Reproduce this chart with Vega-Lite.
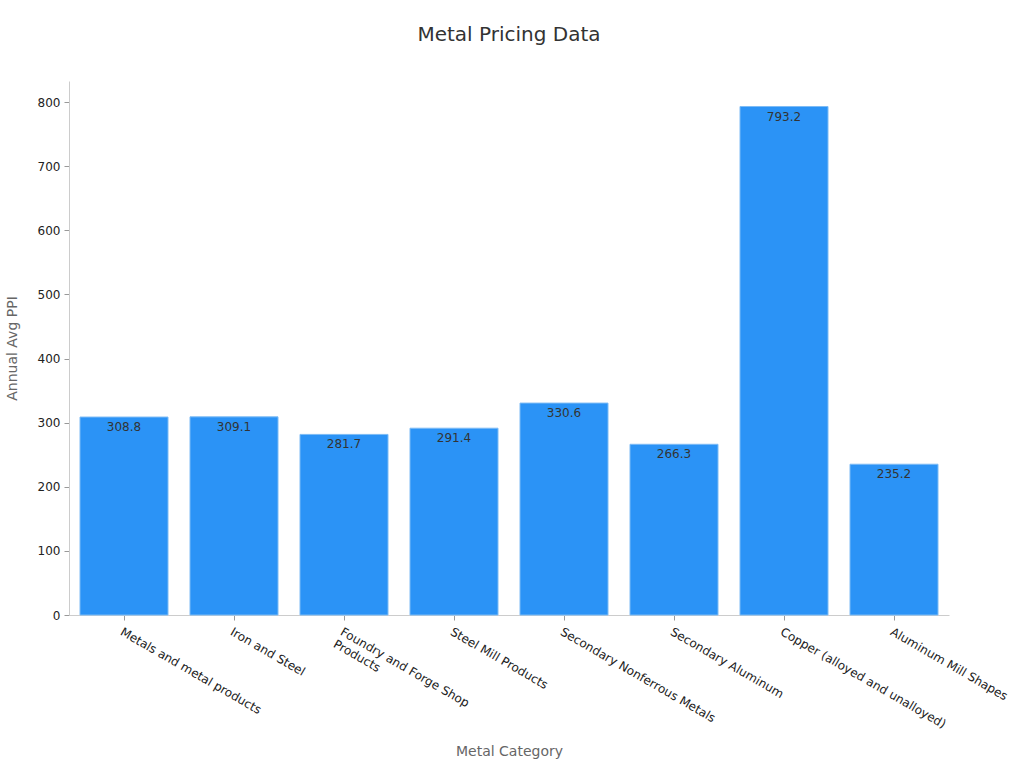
{
  "$schema": "https://vega.github.io/schema/vega-lite/v6.json",
  "width": 880,
  "height": 534,
  "autosize": {"type": "none"},
  "padding": {"left": 69, "top": 81, "right": 75, "bottom": 153},
  "background": "white",
  "title": {
    "text": "Metal Pricing Data",
    "fontSize": 20,
    "font": "DejaVu Sans",
    "fontWeight": "normal",
    "color": "#333333",
    "anchor": "middle",
    "offset": 36
  },
  "config": {
    "view": {"stroke": null},
    "font": "DejaVu Sans"
  },
  "data": {
    "values": [
      {"category": "Metals and metal products", "ppi": 308.8},
      {"category": "Iron and Steel", "ppi": 309.1},
      {"category": "Foundry and Forge Shop Products", "ppi": 281.7},
      {"category": "Steel Mill Products", "ppi": 291.4},
      {"category": "Secondary Nonferrous Metals", "ppi": 330.6},
      {"category": "Secondary Aluminum", "ppi": 266.3},
      {"category": "Copper (alloyed and unalloyed)", "ppi": 793.2},
      {"category": "Aluminum Mill Shapes", "ppi": 235.2}
    ]
  },
  "encoding": {
    "x": {
      "field": "category",
      "type": "nominal",
      "sort": null,
      "scale": {"paddingInner": 0.2, "paddingOuter": 0.1},
      "axis": {
        "title": "Metal Category",
        "titleFontSize": 14,
        "titleFontWeight": "normal",
        "titleColor": "#666666",
        "titlePadding": 15,
        "labelAngle": 30,
        "labelAlign": "left",
        "labelBaseline": "top",
        "labelFontSize": 12,
        "labelColor": "#222222",
        "labelLimit": 300,
        "labelPadding": 6,
        "labelExpr": "datum.label == 'Foundry and Forge Shop Products' ? ['Foundry and Forge Shop', 'Products'] : datum.label",
        "domainColor": "#cccccc",
        "tickColor": "#999999",
        "tickSize": 5,
        "grid": false
      }
    },
    "y": {
      "field": "ppi",
      "type": "quantitative",
      "scale": {"domain": [0, 833], "nice": false},
      "axis": {
        "title": "Annual Avg PPI",
        "titleFontSize": 14,
        "titleFontWeight": "normal",
        "titleColor": "#666666",
        "titlePadding": 18,
        "values": [0, 100, 200, 300, 400, 500, 600, 700, 800],
        "labelFontSize": 12,
        "labelColor": "#222222",
        "labelPadding": 4,
        "domainColor": "#cccccc",
        "tickColor": "#999999",
        "tickSize": 5,
        "grid": false
      }
    }
  },
  "layer": [
    {
      "mark": {"type": "bar", "color": "#2b93f6", "stroke": "#7dbbf5", "strokeWidth": 1}
    },
    {
      "mark": {"type": "text", "baseline": "top", "dy": 5, "fontSize": 12, "color": "#333333"},
      "encoding": {"text": {"field": "ppi", "type": "quantitative", "format": ".1f"}}
    }
  ]
}
